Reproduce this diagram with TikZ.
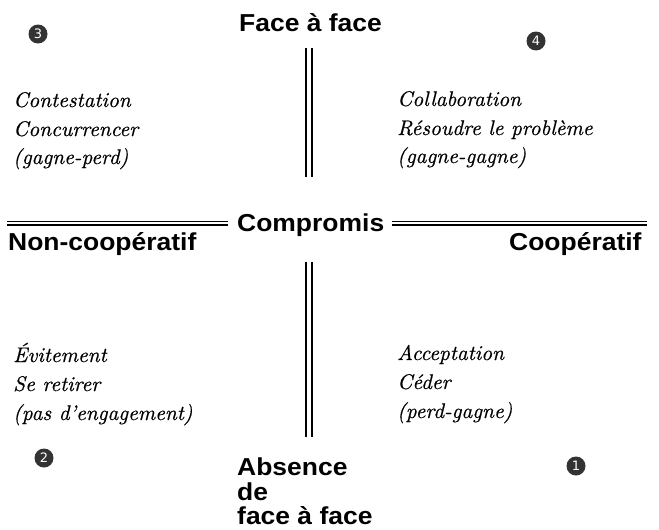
\documentclass[tikz,border=0pt]{standalone}
\usepackage{fontspec}
\newfontfamily\hfont[FakeStretch=1.08]{Liberation Sans Bold}
\newfontfamily\qfont[FakeBold=0.5]{lmroman10-italic.otf}
\newfontfamily\numfont{DejaVu Sans}
\begin{document}
\begin{tikzpicture}[x=1pt,y=-1pt,
  head/.style={font=\hfont\fontsize{24.5}{25}\selectfont, inner sep=0pt, anchor=base west},
  quad/.style={font=\qfont\fontsize{21.2}{25}\selectfont, inner sep=0pt, anchor=base west},
  num/.style={circle, fill=black!80, text=white, minimum size=19pt, inner sep=0pt, font=\numfont\fontsize{13}{13}\selectfont},
  vline/.style={double, line width=2.2pt, double distance=3.8pt},
  hline/.style={double, line width=1.5pt, double distance=2pt}]
\useasboundingbox (0,0) rectangle (659,530);

% axis labels
\node[head] (top) at (239,31) {Face à face};
\node[head] (comp) at (237,231) {Compromis};
\node[head] (left) at (8,250) {Non-coopératif};
\node[head] (right) at (509,250) {Coopératif};
\node[head] (ab1) at (237,475) {Absence};
\node[head] (ab2) at (237,500) {de};
\node[head] (ab3) at (237,524) {face à face};

% axes
\coordinate (vt1) at (309,48);
\coordinate (vt2) at (309,177);
\coordinate (vb1) at (309,262);
\coordinate (vb2) at (309,437);
\coordinate (hl1) at (7,223);
\coordinate (hl2) at (228,223);
\coordinate (hr1) at (392,223);
\coordinate (hr2) at (647,223);
\draw[vline] (vt1) -- (vt2);
\draw[vline] (vb1) -- (vb2);
\draw[hline] (hl1) -- (hl2);
\draw[hline] (hr1) -- (hr2);

% quadrant texts
\node[quad] (q3a) at (13,107) {Contestation};
\node[quad] (q3b) at (13,136) {Concurrencer};
\node[quad] (q3c) at (13,164) {(gagne-perd)};
\node[quad] (q4a) at (397,106) {Collaboration};
\node[quad] (q4b) at (397,135) {Résoudre le problème};
\node[quad] (q4c) at (397,163) {(gagne-gagne)};
\node[quad] (q2a) at (13,362) {Évitement};
\node[quad] (q2b) at (13,391) {Se retirer};
\node[quad] (q2c) at (13,420) {(pas d’engagement)};
\node[quad] (q1a) at (397,360) {Acceptation};
\node[quad] (q1b) at (397,389) {Céder};
\node[quad] (q1c) at (397,418) {(perd-gagne)};

% numbers
\node[num] (n3) at (38,34) {3};
\node[num] (n4) at (536,41) {4};
\node[num] (n2) at (44,458) {2};
\node[num] (n1) at (576,466) {1};
\end{tikzpicture}
\end{document}
